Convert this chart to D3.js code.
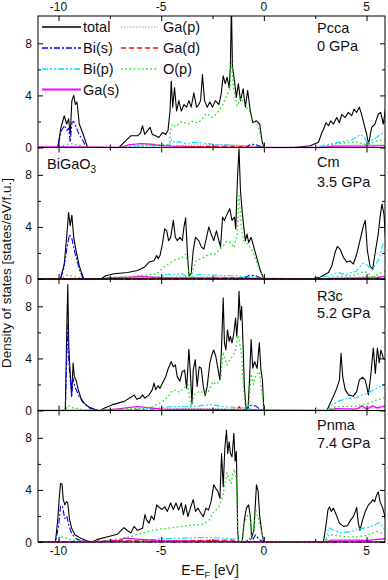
<!DOCTYPE html>
<html><head><meta charset="utf-8">
<script src="https://cdn.jsdelivr.net/npm/d3@7"></script>
<style>body{margin:0;background:#fff} svg{display:block;font-family:Arial,"Liberation Sans",sans-serif}</style>
</head><body><svg id="c" width="388" height="580"></svg>
<script>
// ---------- data ----------
const phases = ["Pcca","Cm","R3c","Pnma"];
const pressures = ["0 GPa","3.5 GPa","5.2 GPa","7.4 GPa"];
const seriesNames = ["total","Bi(s)","Bi(p)","Ga(s)","Ga(p)","Ga(d)","O(p)"];
const xTicks = [-10,-5,0,5];
const xMinorTicks = [-7.5,-2.5,2.5];
const yTicks = [0,4,8];
const yMinorTicks = [2,6];

const pccaTotal = [[-11,0],[-10.04,0],[-9.88,1.54],[-9.72,2.44],[-9.6,1.8],[-9.51,2.2],[-9.43,1.0],[-9.35,3.6],[-9.26,4.0],[-9.18,3.3],[-9.1,3.5],[-8.99,1.8],[-8.83,1.15],[-8.67,0.4],[-8.58,0],[-7.05,0],[-6.81,0.4],[-6.48,0.9],[-6.15,0.9],[-6.0,1.15],[-5.91,1.67],[-5.8,1.0],[-5.67,1.3],[-5.54,1.54],[-5.43,1.0],[-5.27,0.9],[-5.11,0.77],[-4.94,1.15],[-4.78,1.0],[-4.67,1.3],[-4.57,2.8],[-4.51,5.1],[-4.44,3.1],[-4.35,4.6],[-4.25,2.8],[-4.14,3.6],[-4.02,2.8],[-3.89,3.3],[-3.76,3.1],[-3.65,3.6],[-3.54,3.1],[-3.41,4.2],[-3.28,3.1],[-3.17,3.3],[-3.08,3.6],[-2.99,5.6],[-2.89,3.6],[-2.76,3.1],[-2.63,3.5],[-2.5,3.1],[-2.36,3.6],[-2.19,3.3],[-2.08,4.1],[-1.98,5.5],[-1.88,4.9],[-1.79,5.4],[-1.69,4.6],[-1.63,6.2],[-1.58,11],[-1.53,6.2],[-1.43,5.1],[-1.34,3.85],[-1.24,4.9],[-1.14,3.6],[-1.01,4.5],[-0.9,3.1],[-0.79,4.4],[-0.66,2.8],[-0.53,1.9],[-0.36,2.05],[-0.2,1.8],[-0.09,0.5],[0,0],[1.45,0],[2.26,0.13],[2.66,0.4],[2.83,1.15],[2.94,1.54],[3.03,1.9],[3.15,1.67],[3.26,2.05],[3.39,1.8],[3.55,2.3],[3.68,1.9],[3.79,2.55],[3.96,2.3],[4.12,2.7],[4.28,2.45],[4.39,2.95],[4.52,2.7],[4.65,3.1],[4.76,2.55],[4.88,1.8],[5.01,1.0],[5.1,0.25],[5.25,1.54],[5.41,1.8],[5.57,2.55],[5.69,2.7],[5.82,1.8],[5.93,3.1]];
const pccaBiS = [[-11,0],[-10.04,0],[-9.88,1.2],[-9.72,1.7],[-9.6,1.3],[-9.5,1.5],[-9.43,0.4],[-9.35,1.9],[-9.26,2.0],[-9.15,1.6],[-9.0,1.0],[-8.8,0.5],[-8.65,0],[-0.9,0],[-0.7,0.2],[-0.55,0.25],[-0.35,0.2],[-0.1,0.05],[0,0],[5.9,0]];
const pccaBiP = [[-11,0],[-10,0],[-9.5,0.1],[-8.6,0],[-7,0],[-6,0.1],[-4.6,0.15],[-4.5,0.6],[-4.3,0.35],[-4.2,0.45],[-3.8,0.3],[-3.4,0.4],[-3.0,0.35],[-2.5,0.25],[-2,0.2],[-1,0.15],[-0.3,0.1],[0,0],[2.6,0],[3.0,0.2],[3.5,0.35],[4.0,0.5],[4.3,0.6],[4.5,0.8],[4.7,1.0],[4.9,0.8],[5.05,0.3],[5.3,0.6],[5.6,0.9],[5.9,1.2]];
const pccaGaS = [[-11,0.05],[-8.5,0.05],[-7,0],[-6.6,0.2],[-6,0.3],[-5.5,0.25],[-5,0.15],[-4.5,0.1],[-3,0.05],[0,0],[2.7,0],[3.5,0.1],[5,0.1],[5.9,0.15]];
const pccaGaP = [[-11,0],[-7,0],[-6,0.1],[-4.5,0.15],[-3,0.2],[-1.5,0.2],[-0.5,0.1],[0,0],[2.7,0],[3.5,0.15],[5,0.2],[5.9,0.2]];
const pccaGaD = [[-11,0],[-4.6,0],[-3,0.08],[-1.6,0.1],[-1,0.05],[0,0],[5.9,0]];
const pccaOP = [[-11,0],[-10,0],[-9.7,0.2],[-9.4,0.3],[-9.0,0.15],[-8.6,0],[-7,0],[-6.5,0.15],[-5.5,0.2],[-4.6,0.25],[-4.55,1.3],[-4.45,1.8],[-4.3,1.6],[-4.0,2.0],[-3.7,1.8],[-3.5,2.0],[-3.2,1.9],[-3.0,2.2],[-2.8,2.6],[-2.5,2.3],[-2.2,2.8],[-2.0,3.3],[-1.8,4.0],[-1.65,4.5],[-1.58,6.9],[-1.5,4.8],[-1.3,3.2],[-1.1,3.8],[-0.9,3.2],[-0.7,2.8],[-0.55,2.0],[-0.3,1.8],[-0.1,0.5],[0,0],[2.7,0],[3.0,0.1],[3.5,0.3],[4.0,0.35],[4.5,0.45],[5.0,0.2],[5.5,0.5],[5.9,0.6]];

const cmTotal = [[-11,0],[-9.91,0],[-9.72,1.15],[-9.59,3.5],[-9.51,5.1],[-9.43,4.1],[-9.35,4.9],[-9.26,3.2],[-9.15,2.2],[-8.99,1.0],[-8.83,0.25],[-8.75,0],[-7.94,0],[-7.7,0.25],[-7.29,0.4],[-6.64,0.5],[-6.16,0.65],[-5.83,0.9],[-5.59,1.3],[-5.35,1.4],[-5.22,1.8],[-5.15,1.55],[-5.06,1.8],[-4.94,2.7],[-4.83,3.85],[-4.73,3.7],[-4.64,2.95],[-4.54,3.2],[-4.41,4.5],[-4.31,3.2],[-4.22,2.95],[-4.09,3.2],[-3.97,2.95],[-3.89,4.0],[-3.81,4.7],[-3.73,2.2],[-3.65,0.25],[-3.54,0.4],[-3.44,2.2],[-3.33,3.2],[-3.17,2.95],[-3.04,2.45],[-2.92,2.3],[-2.79,3.2],[-2.68,4.0],[-2.57,3.45],[-2.44,2.95],[-2.31,3.7],[-2.19,2.95],[-2.11,2.45],[-2.01,4.75],[-1.92,4.5],[-1.79,5.0],[-1.66,5.4],[-1.55,4.5],[-1.43,4.75],[-1.37,3.85],[-1.29,7.55],[-1.21,10.0],[-1.14,6.8],[-1.06,5.25],[-0.98,4.0],[-0.9,2.95],[-0.82,3.45],[-0.74,2.8],[-0.62,3.2],[-0.49,2.45],[-0.33,1.55],[-0.17,0.65],[0,0],[2.26,0],[2.74,0.13],[3.15,0.5],[3.31,1.0],[3.47,2.05],[3.58,2.5],[3.71,2.3],[3.88,1.65],[4.04,1.3],[4.2,1.4],[4.36,1.15],[4.52,1.9],[4.68,2.95],[4.85,4.1],[4.94,4.5],[5.04,2.2],[5.17,1.0],[5.3,0.75],[5.41,1.9],[5.57,3.45],[5.66,4.75],[5.75,5.75],[5.85,5.0],[5.95,2.45]];
const cmBiS = [[-11,0],[-9.9,0],[-9.75,0.8],[-9.6,2.3],[-9.47,3.4],[-9.35,3.1],[-9.2,2.0],[-9.0,0.8],[-8.83,0.1],[-8.78,0],[-1.0,0],[-0.8,0.2],[-0.7,0.3],[-0.4,0.25],[-0.1,0.05],[0,0],[5.9,0]];
const cmBiP = [[-11,0],[-7.8,0],[-5,0.15],[-4.8,0.35],[-4,0.4],[-3.65,0.1],[-3.2,0.35],[-2.5,0.3],[-1.5,0.25],[-0.5,0.15],[0,0],[2.5,0],[3.3,0.3],[3.6,0.5],[4.0,0.35],[4.5,0.6],[4.8,1.2],[5.0,1.1],[5.3,0.7],[5.6,1.5],[5.8,2.7],[5.95,2.4]];
const cmGaS = [[-11,0],[-7.9,0],[-7.5,0.1],[-6.5,0.15],[-6,0.2],[-5,0.1],[0,0.05],[2.5,0],[3.5,0.05],[5.5,0.1],[5.9,0.2]];
const cmGaP = [[-11,0],[-7.9,0],[-6,0.1],[-4,0.15],[-2,0.15],[0,0],[3,0],[4.5,0.15],[5.9,0.2]];
const cmGaD = [[-11,0],[-3,0.05],[-1.2,0.1],[0,0],[5.9,0]];
const cmOP = [[-11,0],[-9.9,0],[-9.6,0.3],[-9.3,0.2],[-8.8,0.05],[-8.7,0],[-7.9,0],[-7,0.15],[-6,0.25],[-5.2,0.4],[-4.9,0.9],[-4.6,1.2],[-4.3,1.5],[-4.0,1.6],[-3.8,1.9],[-3.7,1.0],[-3.65,0.1],[-3.5,0.4],[-3.3,1.4],[-3.0,1.6],[-2.7,1.9],[-2.4,1.9],[-2.2,2.2],[-2.0,2.5],[-1.8,2.9],[-1.6,2.8],[-1.45,2.4],[-1.3,3.5],[-1.21,6.4],[-1.1,4.0],[-1.0,3.0],[-0.8,2.7],[-0.6,2.3],[-0.4,1.5],[-0.2,0.6],[0,0],[2.8,0],[3.6,0.2],[4.5,0.3],[4.9,0.6],[5.3,0.2],[5.9,0.6]];

const r3cTotal = [[-11,0],[-9.67,0],[-9.6,6.2],[-9.55,9.67],[-9.5,4.9],[-9.46,3.65],[-9.41,2.35],[-9.36,1.2],[-9.29,3.65],[-9.23,2.6],[-9.15,2.35],[-9.04,1.6],[-8.91,0.95],[-8.75,0.55],[-8.5,0.25],[-8.18,0.05],[-8.07,0],[-7.97,0],[-7.78,0.18],[-7.37,0.45],[-6.8,0.7],[-6.4,1.1],[-6.32,1.2],[-6.19,0.87],[-6.03,0.95],[-5.91,1.2],[-5.8,0.95],[-5.59,1.2],[-5.43,1.6],[-5.35,2.1],[-5.27,1.6],[-5.15,1.9],[-5.06,1.7],[-4.94,2.1],[-4.78,2.6],[-4.65,3.25],[-4.51,3.75],[-4.41,3.35],[-4.31,3.5],[-4.22,2.6],[-4.09,2.25],[-3.97,3.0],[-3.86,3.1],[-3.76,1.7],[-3.65,4.7],[-3.57,2.6],[-3.5,0.5],[-3.44,3.1],[-3.34,3.9],[-3.25,1.85],[-3.15,3.35],[-3.05,3.25],[-2.95,1.85],[-2.86,1.15],[-2.76,1.85],[-2.63,3.65],[-2.53,4.3],[-2.44,4.65],[-2.34,4.15],[-2.24,3.25],[-2.14,2.35],[-2.06,4.9],[-1.98,8.65],[-1.92,5.2],[-1.85,4.65],[-1.77,6.2],[-1.69,5.3],[-1.63,5.7],[-1.55,5.2],[-1.46,5.95],[-1.38,7.1],[-1.32,5.7],[-1.25,7.25],[-1.21,9.15],[-1.14,6.95],[-1.08,8.0],[-1.01,4.9],[-0.95,1.85],[-0.87,0.18],[-0.77,0.18],[-0.7,2.35],[-0.62,5.45],[-0.54,3.25],[-0.45,3.75],[-0.33,3.25],[-0.22,5.2],[-0.14,3.1],[-0.07,2.35],[0,0],[3.07,0],[3.23,0.55],[3.39,1.1],[3.55,1.7],[3.68,2.35],[3.76,4.4],[3.84,2.6],[3.96,1.6],[4.12,1.2],[4.36,1.1],[4.52,1.45],[4.65,2.35],[4.81,2.55],[4.93,2.35],[5.01,1.85],[5.09,1.2],[5.2,2.6],[5.33,4.8],[5.43,2.85],[5.53,4.8],[5.62,3.65],[5.7,4.65],[5.82,4.0],[5.95,3.9]];
const r3cBiS = [[-11,0],[-9.67,0],[-9.6,4.0],[-9.55,6.6],[-9.5,3.8],[-9.45,2.8],[-9.36,1.0],[-9.3,2.5],[-9.2,1.8],[-9.0,1.1],[-8.8,0.6],[-8.5,0.2],[-8.1,0],[-0.9,0],[-0.65,0.4],[-0.4,0.35],[-0.2,0.1],[0,0],[5.9,0]];
const r3cBiP = [[-11,0],[-8,0],[-6,0.1],[-5,0.2],[-4.5,0.3],[-3.5,0.3],[-2.6,0.45],[-2,0.3],[-1,0.2],[0,0],[3.1,0],[3.3,0.4],[3.6,0.7],[4.0,0.9],[4.5,1.0],[5.0,1.3],[5.5,1.7],[5.9,2.0]];
const r3cGaS = [[-11,0],[-7.9,0],[-7,0.15],[-6.2,0.3],[-5.5,0.2],[-5,0.1],[0,0.05],[3.1,0],[3.5,0.15],[4.5,0.1],[4.8,0.35],[5.0,0.1],[5.3,0.35],[5.5,0.2],[5.9,0.35]];
const r3cGaP = [[-11,0],[-7.9,0],[-6,0.1],[-4,0.15],[-2,0.15],[0,0],[3.1,0],[4.5,0.15],[5.9,0.2]];
const r3cGaD = [[-11,0],[-2,0.05],[-1.3,0.1],[-1.2,0.3],[-1.1,0.1],[0,0],[5.9,0]];
const r3cOP = [[-11,0],[-9.67,0],[-9.55,0.4],[-9.3,0.2],[-8.5,0],[-7.9,0],[-7,0.1],[-6,0.15],[-5.5,0.25],[-5.0,0.6],[-4.7,1.0],[-4.4,1.6],[-4.1,1.4],[-3.9,1.7],[-3.7,2.0],[-3.55,0.2],[-3.4,1.2],[-3.1,1.5],[-2.9,1.3],[-2.7,1.4],[-2.5,2.2],[-2.3,2.0],[-2.1,2.4],[-1.98,4.5],[-1.8,3.5],[-1.6,4.0],[-1.4,4.5],[-1.25,5.8],[-1.1,4.5],[-1.0,2.0],[-0.9,0.1],[-0.75,0.1],[-0.62,2.8],[-0.5,2.0],[-0.45,2.5],[-0.22,3.0],[-0.1,1.5],[0,0],[3.1,0],[3.2,0.1],[3.5,0.3],[4.0,0.3],[4.5,0.35],[5.0,0.5],[5.5,0.8],[5.9,1.0]];

const pnmaTotal = [[-11,0],[-10.15,0],[-10.04,1.7],[-9.96,3.5],[-9.9,4.5],[-9.83,4.45],[-9.77,3.25],[-9.69,2.85],[-9.62,3.1],[-9.55,3.0],[-9.47,1.8],[-9.36,1.05],[-9.2,0.55],[-8.91,0.28],[-8.62,0.1],[-8.5,0],[-8.39,0],[-8.1,0.2],[-7.61,0.4],[-7.13,0.6],[-6.81,1.1],[-6.67,0.9],[-6.48,0.7],[-6.32,1.2],[-6.16,0.9],[-5.91,1.05],[-5.79,2.1],[-5.71,1.7],[-5.59,1.45],[-5.48,2.0],[-5.35,1.7],[-5.22,2.85],[-5.09,2.65],[-4.96,2.5],[-4.83,2.7],[-4.7,2.35],[-4.54,3.0],[-4.41,2.5],[-4.28,3.0],[-4.15,2.45],[-4.02,3.0],[-3.92,2.1],[-3.81,2.85],[-3.7,1.95],[-3.57,2.65],[-3.44,3.25],[-3.33,2.35],[-3.21,2.6],[-3.08,2.25],[-2.95,1.95],[-2.82,2.6],[-2.7,2.45],[-2.57,3.1],[-2.44,4.4],[-2.34,4.1],[-2.24,3.9],[-2.14,3.35],[-2.06,6.8],[-1.98,4.25],[-1.9,7.2],[-1.82,8.6],[-1.76,6.8],[-1.69,7.7],[-1.63,6.8],[-1.55,6.55],[-1.46,8.35],[-1.4,6.2],[-1.34,6.95],[-1.27,0.65],[-1.22,0],[-1.06,0],[-0.95,1.7],[-0.85,2.6],[-0.74,2.85],[-0.66,1.95],[-0.59,0.3],[-0.49,0.9],[-0.43,2.45],[-0.36,4.4],[-0.28,3.9],[-0.2,1.95],[-0.09,0.65],[0,0],[2.9,0],[3.02,1.2],[3.12,2.45],[3.2,2.7],[3.28,2.35],[3.39,2.6],[3.52,2.1],[3.68,1.45],[3.88,1.2],[4.07,1.25],[4.23,1.7],[4.36,1.95],[4.46,2.35],[4.52,2.65],[4.6,1.45],[4.68,0.9],[4.81,1.7],[4.94,2.35],[5.09,2.85],[5.2,3.0],[5.3,3.25],[5.4,3.1],[5.49,3.6],[5.57,3.85],[5.66,3.1],[5.79,2.6],[5.9,1.95],[5.98,0.9]];
const pnmaBiS = [[-11,0],[-10.15,0],[-10.0,1.2],[-9.9,2.8],[-9.8,2.7],[-9.7,1.8],[-9.6,2.0],[-9.5,1.3],[-9.35,0.6],[-9.1,0.2],[-8.6,0],[-0.9,0],[-0.7,0.25],[-0.55,0.15],[-0.4,0.55],[-0.25,0.2],[0,0],[5.9,0]];
const pnmaBiP = [[-11,0],[-8.3,0],[-6,0.1],[-5,0.25],[-4,0.3],[-3,0.35],[-2,0.3],[-1.3,0.2],[-1.22,0],[0,0],[3.0,0],[3.15,1.1],[3.4,0.9],[3.8,0.7],[4.2,0.8],[4.6,1.0],[5.0,1.1],[5.4,1.3],[5.6,1.5],[5.8,1.2],[5.95,0.7]];
const pnmaGaS = [[-11,0],[-8.3,0],[-7,0.15],[-6.8,0.3],[-6,0.2],[-5,0.1],[0,0],[3.0,0],[3.3,0.15],[4.5,0.15],[5.0,0.1],[5.5,0.2],[5.9,0.25]];
const pnmaGaP = [[-11,0],[-8.3,0],[-6,0.1],[-4,0.15],[-2,0.15],[-1.22,0],[0,0],[3,0],[4.5,0.15],[5.9,0.2]];
const pnmaGaD = [[-11,0],[-6.5,0.1],[-5,0.05],[-1.6,0.15],[-1.22,0],[0,0],[5.9,0]];
const pnmaOP = [[-11,0],[-10.1,0],[-10,0.1],[-9.8,0.4],[-9.5,0.2],[-8.9,0.05],[-8.5,0],[-8.3,0],[-7.5,0.15],[-7,0.25],[-6.5,0.4],[-6,0.65],[-5.5,0.85],[-5,1.0],[-4.5,1.1],[-4,1.2],[-3.5,1.3],[-3,1.35],[-2.7,1.6],[-2.5,2.2],[-2.2,2.7],[-2.0,3.5],[-1.8,5.3],[-1.6,4.5],[-1.45,5.6],[-1.35,5.0],[-1.27,0.3],[-1.22,0],[-1.05,0],[-0.95,1.4],[-0.8,2.0],[-0.7,2.2],[-0.6,0.3],[-0.5,0.6],[-0.4,2.5],[-0.3,2.0],[-0.15,1.0],[0,0],[3.0,0],[3.2,0.6],[3.5,0.5],[4.0,0.4],[4.5,0.4],[5.0,0.5],[5.5,0.8],[5.9,0.6]];

// table built from the arrays above
const dosTable = [
  [pccaTotal, pccaBiS, pccaBiP, pccaGaS, pccaGaP, pccaGaD, pccaOP],
  [cmTotal, cmBiS, cmBiP, cmGaS, cmGaP, cmGaD, cmOP],
  [r3cTotal, r3cBiS, r3cBiP, r3cGaS, r3cGaP, r3cGaD, r3cOP],
  [pnmaTotal, pnmaBiS, pnmaBiP, pnmaGaS, pnmaGaP, pnmaGaD, pnmaOP]
];

// ---------- styles / layout ----------
const seriesStyle = [
  {color:"#000000", dash:null, w:1.1},
  {color:"#0000ff", dash:"6,2,2,2", w:1.1},
  {color:"#00e0ff", dash:"6,2,2,2,2,2", w:1.1},
  {color:"#ff00ff", dash:null, w:1.3},
  {color:"#9a9a9a", dash:"1.5,1.5", w:1.0},
  {color:"#ff0000", dash:"5,3", w:1.1},
  {color:"#22e022", dash:"1.6,2.6", w:1.3}
];
const drawOrder = [0,4,2,1,3,5,6];
const left = 38, right = 385, top0 = 16, panelH = 131.5;
const labelOffsets = [[17,35],[19.5,39.5],[21.7,39],[19.5,37.5]];

const svg = d3.select("#c");
const x = d3.scaleLinear().domain([-11, 5.9]).range([left, right]);

phases.forEach((ph, i) => {
  const top = top0 + i*panelH, bottom = top + panelH;
  const y = d3.scaleLinear().domain([0, 10.1]).range([bottom, top]);
  const g = svg.append("g");
  const clipId = "clip" + i;
  svg.append("clipPath").attr("id", clipId).append("rect")
    .attr("x", left).attr("y", top).attr("width", right-left).attr("height", panelH+1);
  const lines = g.append("g").attr("clip-path", `url(#${clipId})`);
  const line = d3.line().x(d => x(d[0])).y(d => y(d[1]));
  drawOrder.forEach(k => {
    const s = seriesStyle[k];
    lines.append("path").attr("d", line(dosTable[i][k]))
      .attr("fill","none").attr("stroke", s.color).attr("stroke-width", s.w)
      .attr("stroke-dasharray", s.dash).attr("stroke-linejoin","round");
  });
  // frame
  g.append("rect").attr("x", left).attr("y", top).attr("width", right-left).attr("height", panelH)
    .attr("fill","none").attr("stroke","#000").attr("stroke-width",1);
  // axes with inward ticks
  const axB = g.append("g").attr("transform",`translate(0,${bottom})`)
    .call(d3.axisTop(x).tickValues(xTicks).tickSize(5).tickFormat(""));
  const axBm = g.append("g").attr("transform",`translate(0,${bottom})`)
    .call(d3.axisTop(x).tickValues(xMinorTicks).tickSize(3).tickFormat(""));
  const axT = g.append("g").attr("transform",`translate(0,${top})`)
    .call(d3.axisBottom(x).tickValues(xTicks).tickSize(5).tickFormat(""));
  const axTm = g.append("g").attr("transform",`translate(0,${top})`)
    .call(d3.axisBottom(x).tickValues(xMinorTicks).tickSize(3).tickFormat(""));
  const axL = g.append("g").attr("transform",`translate(${left},0)`)
    .call(d3.axisRight(y).tickValues(yTicks).tickSize(5).tickFormat(""));
  const axLm = g.append("g").attr("transform",`translate(${left},0)`)
    .call(d3.axisRight(y).tickValues(yMinorTicks).tickSize(3).tickFormat(""));
  const axR = g.append("g").attr("transform",`translate(${right},0)`)
    .call(d3.axisLeft(y).tickValues(yTicks).tickSize(5).tickFormat(""));
  const axRm = g.append("g").attr("transform",`translate(${right},0)`)
    .call(d3.axisLeft(y).tickValues(yMinorTicks).tickSize(3).tickFormat(""));
  [axB,axBm,axT,axTm,axL,axLm,axR,axRm].forEach(a => { a.select(".domain").remove(); a.selectAll("line").attr("stroke","#000"); });
  // y tick labels
  g.selectAll(".yl").data(yTicks).enter().append("text")
    .attr("x", 32).attr("y", d => y(d) + 4.5).attr("text-anchor","end")
    .attr("font-size", 12).attr("fill","#111").text(d => d);
  // phase labels
  g.append("text").attr("x", 317).attr("y", top + labelOffsets[i][0]).attr("font-size",14.5).attr("fill","#111").text(ph);
  g.append("text").attr("x", 317).attr("y", top + labelOffsets[i][1]).attr("font-size",14.5).attr("fill","#111").text(pressures[i]);
  // x tick labels on top and bottom
  if (i === 0) {
    g.selectAll(".xt").data(xTicks).enter().append("text")
      .attr("x", d => x(d)).attr("y", 11).attr("text-anchor","middle")
      .attr("font-size",12).attr("fill","#111").text(d => d === 0 ? "0" : d < 0 ? "-" + Math.abs(d) : d);
  }
  if (i === phases.length - 1) {
    g.selectAll(".xb").data(xTicks).enter().append("text")
      .attr("x", d => x(d)).attr("y", bottom + 13).attr("text-anchor","middle")
      .attr("font-size",12).attr("fill","#111").text(d => d === 0 ? "0" : d < 0 ? "-" + Math.abs(d) : d);
  }
});

// legend in first panel
const legCols = [[0,1,2,3],[4,5,6]];
const legX = [[42,81,83],[121,158,163]];
const legY = [27, 48, 69, 89.5];
legCols.forEach((col, c) => {
  col.forEach((k, r) => {
    const s = seriesStyle[k];
    svg.append("line").attr("x1", legX[c][0]).attr("x2", legX[c][1])
      .attr("y1", legY[r]).attr("y2", legY[r])
      .attr("stroke", s.color).attr("stroke-width", k === 3 ? 2 : s.w + 0.2).attr("stroke-dasharray", s.dash);
    svg.append("text").attr("x", legX[c][2]).attr("y", legY[r] + 5)
      .attr("font-size", 14.5).attr("fill","#111").text(seriesNames[k]);
  });
});

// compound label
const bg = svg.append("text").attr("x", 47).attr("y", 169).attr("font-size",14.5).attr("fill","#111");
bg.append("tspan").text("BiGaO");
bg.append("tspan").attr("dy", 4).attr("font-size", 10).text("3");

// axis titles
const xt = svg.append("text").attr("x", 210).attr("y", 575).attr("text-anchor","middle").attr("font-size",14).attr("fill","#111");
xt.append("tspan").text("E-E");
xt.append("tspan").attr("dy", 3).attr("font-size", 9).text("F");
xt.append("tspan").attr("dy", -3).text(" [eV]");
svg.append("text").attr("transform","translate(11,273) rotate(-90)").attr("text-anchor","middle")
  .attr("font-size",13.5).attr("fill","#111").text("Density of states [states/eV/f.u.]");
</script></body></html>
